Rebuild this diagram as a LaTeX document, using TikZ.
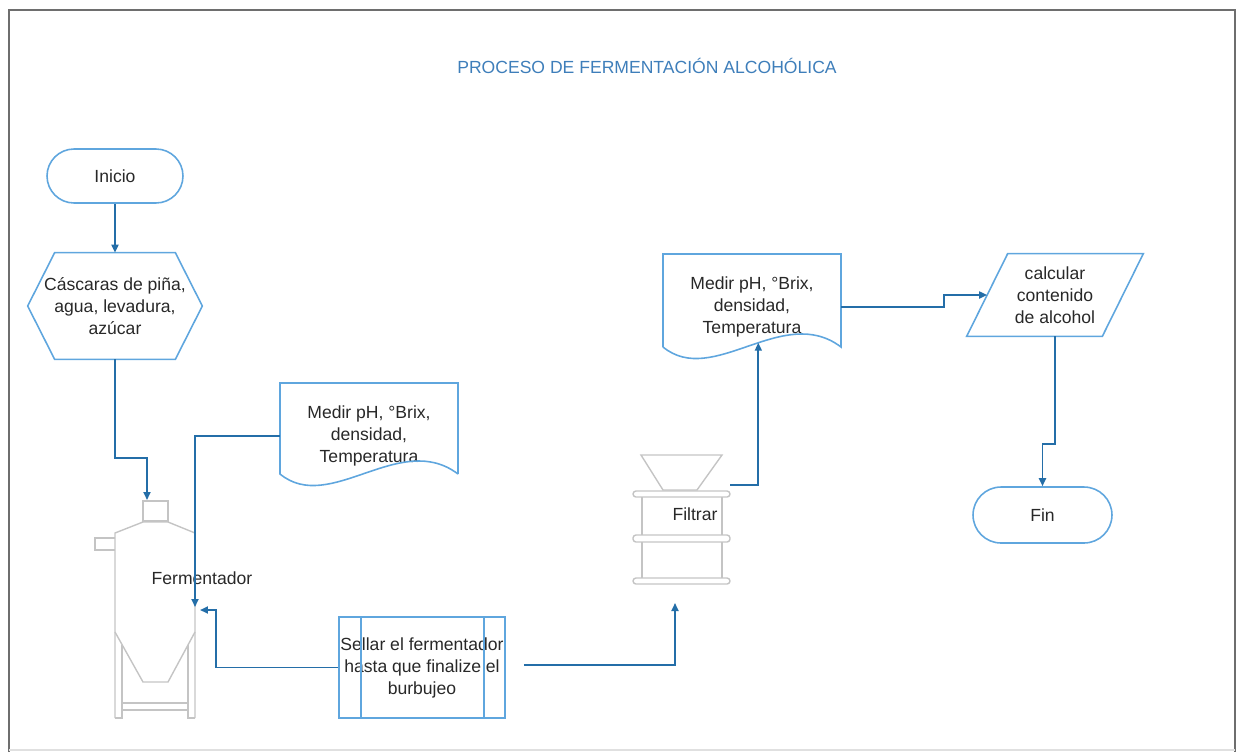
\documentclass[tikz,border=0pt]{standalone}
\usepackage{fontspec}
\setmainfont{Liberation Sans}
\usetikzlibrary{arrows.meta,calc}
\definecolor{shapeblue}{RGB}{95,166,222}
\definecolor{lineblue}{RGB}{36,110,168}
\definecolor{titleblue}{RGB}{62,126,186}
\definecolor{txt}{RGB}{40,40,40}
\definecolor{equip}{RGB}{196,196,196}
\definecolor{framegray}{RGB}{110,110,110}
\begin{document}
\begin{tikzpicture}[x=0.02cm,y=-0.02cm,
  every node/.style={font=\fontsize{10}{12.5}\selectfont, text=txt, align=center, inner sep=0pt},
  shp/.style={draw=shapeblue, line width=0.9pt},
  conn/.style={draw=lineblue, line width=1pt, -{Triangle[length=0.16cm,width=0.14cm]}},
  eq/.style={draw=equip, line width=0.8pt},
  post/.style={draw=equip, line width=1.5pt}]
\useasboundingbox (0,0) rectangle (1242,752);
% frame
\draw[framegray, line width=1.2pt] (9,752) -- (9,10) -- (1235,10) -- (1235,752);
\draw[black!12, line width=0.8pt] (9,750) -- (1235,750);
% title
\node[text=titleblue] (title) at (647,66) {PROCESO DE FERMENTACIÓN ALCOHÓLICA};
% Inicio
\node[shp, minimum width=2.72cm, minimum height=1.08cm, rounded corners=0.54cm] (inicio) at (115,176) {Inicio};
% hexagon
\node[minimum width=3.48cm, minimum height=2.12cm] (hex) at (115,306) {Cáscaras de piña,\\agua, levadura,\\azúcar};
\draw[shp] (hex.west) -- ([xshift=0.54cm]hex.north west) -- ([xshift=-0.54cm]hex.north east) -- (hex.east) -- ([xshift=-0.54cm]hex.south east) -- ([xshift=0.54cm]hex.south west) -- cycle;
% fermenter
\draw[eq] (143,501) rectangle (168,521);
\draw[eq] (115,718) -- (115,533) -- (143,522) -- (168,522) -- (195,533) -- (195,718);
\draw[eq] (115,538) -- (95,538) -- (95,550) -- (115,550);
\draw[eq] (115,632) -- (143,682) -- (168,682) -- (195,632);
\draw[eq] (122,645) -- (122,718) -- (115,718);
\draw[eq] (188,645) -- (188,718) -- (195,718);
\draw[eq] (122,703) -- (188,703);
\draw[eq] (122,710) -- (188,710);
\node (ferm) at (202,578) {Fermentador};
\coordinate (fermtop) at (147,500);
\coordinate (fermA) at (195,607);
\coordinate (fermB) at (200,610);
% document 1
\node[minimum width=3.56cm] (doc1) at (369,436) {Medir pH, °Brix,\\densidad,\\Temperatura};
\draw[shp] (458,474) -- (458,383) -- (280,383) -- (280,474) .. controls (330,515) and (400,430) .. (458,474);
% Sellar
\node[shp, minimum width=3.32cm, minimum height=2.02cm] (sellar) at (422,667.5) {Sellar el fermentador\\hasta que finalize el\\burbujeo};
\draw[shp] ([xshift=0.46cm]sellar.north west) -- ([xshift=0.46cm]sellar.south west);
\draw[shp] ([xshift=-0.44cm]sellar.north east) -- ([xshift=-0.44cm]sellar.south east);
% filter
\draw[eq] (641,455) -- (722,455) -- (697,490) -- (663,490) -- cycle;
\draw[eq, rounded corners=0.06cm] (633,491) rectangle (730,497);
\draw[eq, rounded corners=0.06cm] (633,535) rectangle (730,542);
\draw[eq, rounded corners=0.06cm] (633,578) rectangle (730,584);
\draw[post] (642,497) -- (642,535) (722,497) -- (722,535) (642,542) -- (642,578) (722,542) -- (722,578);
\node (filt) at (695,514) {Filtrar};
\coordinate (filtin) at (675,603);
\coordinate (filtout) at (730,485);
% document 2
\node[minimum width=3.56cm] (doc2) at (752,307) {Medir pH, °Brix,\\densidad,\\Temperatura};
\draw[shp] (663,347) -- (663,254) -- (841,254) -- (841,347) .. controls (783,303) and (713,388) .. (663,347) coordinate[pos=0.45] (d2b);
% parallelogram
\node[minimum width=3.52cm, minimum height=1.64cm] (para) at (1055,295) {calcular\\contenido\\de alcohol};
\draw[shp] ([xshift=0.82cm]para.north west) -- (para.north east) -- ([xshift=-0.82cm]para.south east) -- (para.south west) -- cycle;
\coordinate (paraL) at ($(para.south west)!0.5!([xshift=0.82cm]para.north west)$);
% Fin
\node[shp, minimum width=2.78cm, minimum height=1.12cm, rounded corners=0.56cm] (fin) at (1042.5,515) {Fin};
% connectors
\draw[conn] (inicio.south) -- (hex.north);
\draw[conn] (hex.south) -- ++(0,99) -| (fermtop);
\draw[conn] (doc1.west) -| (fermA);
\draw[conn] (sellar.west) -- ++(-122,0) |- (fermB);
\draw[conn] ([xshift=0.36cm,yshift=0.05cm]sellar.east) -| (filtin);
\draw[conn] (filtout) -| (d2b);
\draw[conn] (doc2.east) -- ++(103,0) |- (paraL);
\draw[conn] (para.south) -- ++(0,108) -| (fin.north);
\end{tikzpicture}
\end{document}
